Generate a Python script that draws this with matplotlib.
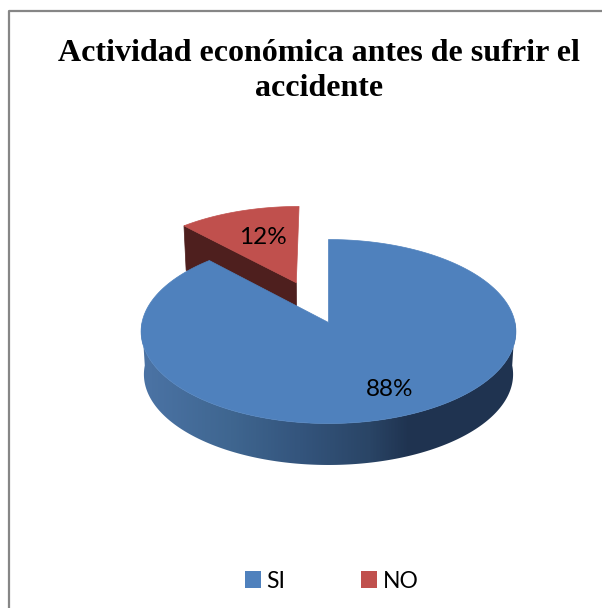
import numpy as np
from matplotlib import pyplot
from matplotlib.patches import Polygon, Patch
from matplotlib.colors import LinearSegmentedColormap

title = 'Actividad económica antes de sufrir el\naccidente'
labels = ['SI', 'NO']
values = [88, 12]
colors = ['#4F81BD', '#C0504D']

# pie geometry in figure pixels, perspective squashes the back of the disc
cx, cy = 328.5, 322.5
rx, ry = 186.5, 91.1
persp = 0.098
depth = 43
shrink = 0.985
explode = 0.49

# rim shading, left to right across the pie
side_cmap = LinearSegmentedColormap.from_list('side', [(0.0, '#4A72A3'), (0.04, '#4A72A3'), (0.245, '#3F6690'),
                                                       (0.42, '#34557D'), (0.6, '#2A4566'), (0.705, '#1F3350'),
                                                       (1.0, '#1F3450')])


def project(u, v, low=False):
    w = 1 + persp * v
    x = rx * u / w
    y = -ry * v / w
    if low:
        return cx + x * shrink, cy + y * shrink + depth
    return cx + x, cy + y


def outline(start, stop, shift=0.0, centre=True, low=False):
    # angles in degrees, clockwise from twelve o'clock
    t = np.radians(np.linspace(start, stop, 200))
    mid = np.radians((start + stop) / 2)
    u = np.sin(t) + shift * np.sin(mid)
    v = np.cos(t) + shift * np.cos(mid)
    x, y = project(u, v, low)
    if centre:
        ax0, ay0 = project(shift * np.sin(mid), shift * np.cos(mid), low)
        x = np.r_[ax0, x]
        y = np.r_[ay0, y]
    return np.column_stack([x, y])


fig = pyplot.figure(figsize=(6.02, 6.08), dpi=100)
ax = fig.add_axes([0, 0, 1, 1])
ax.axis('off')

# chart frame
ax.plot([602, 9, 9], [11, 11, 608], color='#868686', lw=1.6, zorder=0)

total = sum(values)
blue_stop = 360 * values[0] / total

# exploded slice first, the big one sits in front of it
mid = np.radians((blue_stop + 360) / 2)
top_a = project(explode * np.sin(mid), explode * np.cos(mid))
low_a = project(explode * np.sin(mid), explode * np.cos(mid), True)
edge = np.radians(blue_stop)
eu, ev = np.sin(edge) + explode * np.sin(mid), np.cos(edge) + explode * np.cos(mid)
top_b = project(eu, ev)
low_b = project(eu, ev, True)
ax.add_patch(Polygon([top_a, top_b, low_b, low_a], fc='#4E1F1E', ec='#4E1F1E', lw=0.5, zorder=1))
ax.add_patch(Polygon(outline(blue_stop, 360, explode), fc=colors[1], ec=colors[1], lw=0.5, zorder=2))

# rim of the big slice, one gradient image clipped to the rim shape
up = outline(90, 270, centre=False)
lo = outline(90, 270, centre=False, low=True)[::-1]
rim = Polygon(np.vstack([up, lo]), fc='none', ec='none')
ax.add_patch(rim)
grad = np.linspace(0, 1, 390).reshape(1, -1)
im = ax.imshow(grad, cmap=side_cmap, extent=[135, 525, 480, 320], aspect='auto', zorder=3)
im.set_clip_path(rim)

ax.add_patch(Polygon(outline(0, blue_stop), fc=colors[0], ec=colors[0], lw=0.5, zorder=4))

# percent labels
lab_x, lab_y = project(0.75 * np.sin(np.radians(blue_stop / 2)) + 0.03, 0.75 * np.cos(np.radians(blue_stop / 2)) + 0.01)
ax.text(lab_x, lab_y, '%d%%' % values[0], fontsize=17.5, family='Lato', ha='center', va='center', zorder=5)
lab_x, lab_y = project((explode + 0.62) * np.sin(mid) + 0.02, (explode + 0.62) * np.cos(mid))
ax.text(lab_x, lab_y, '%d%%' % values[1], fontsize=17.5, family='Lato', ha='center', va='center', zorder=5)

ax.text(319, 71, title, fontsize=23, family='Liberation Serif', weight='bold', ha='center', va='center',
        linespacing=1.28)

handles = [Patch(fc=c, ec='none') for c in colors]
ax.legend(handles, labels, ncols=2, loc='center', bbox_to_anchor=(331.5 / 602, 1 - 581 / 608), frameon=False,
          prop={'family': 'Lato', 'size': 16.5}, handlelength=0.72, handleheight=0.72, handletextpad=0.22,
          columnspacing=3.3)

ax.set_xlim(0, 602)
ax.set_ylim(608, 0)

pyplot.savefig('out.png', dpi=100)
